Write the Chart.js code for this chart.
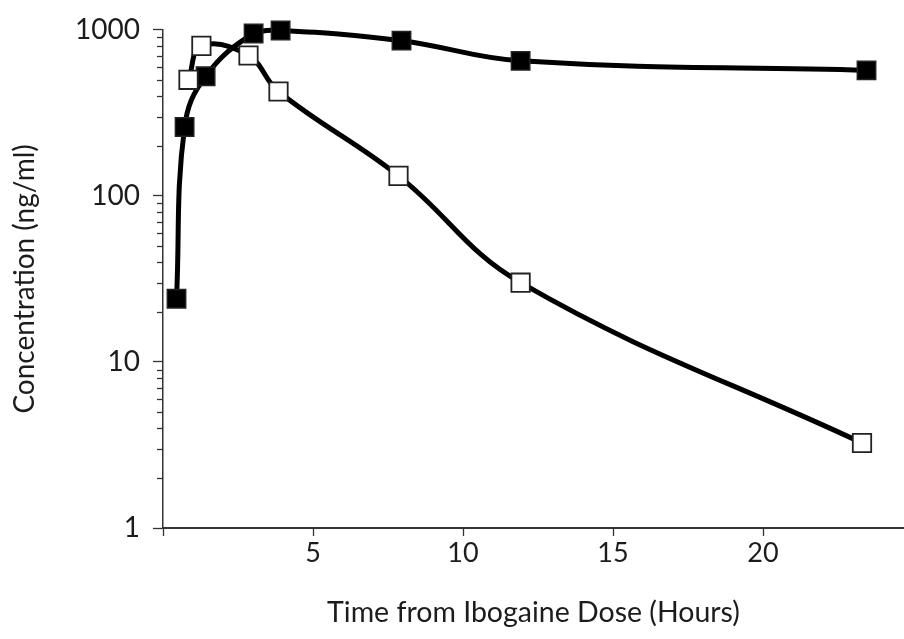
<!DOCTYPE html>
<html>
<head>
<meta charset="utf-8">
<script src="https://cdn.jsdelivr.net/npm/chart.js@4/dist/chart.umd.min.js"></script>
<style>
    html, body { margin: 0; padding: 0; background: #fff; overflow: hidden; }
    #wrap { width: 904px; height: 639px; }
</style>
</head>
<body>
<div id="wrap"><canvas id="pkChart"></canvas></div>
<script>
// sampling times (hours) and plasma concentrations (ng/ml)
const filledTimes = [0.45, 0.72, 1.42, 3.02, 3.92, 7.95, 11.92, 23.45];
const filledConc = [24, 260, 525, 950, 990, 860, 650, 570];
const openTimes = [0.85, 1.28, 2.85, 3.85, 7.85, 11.92, 23.3];
const openConc = [500, 800, 700, 425, 132, 30, 3.25];

const xTicks = [0, 5, 10, 15, 20];
const yTicks = [1, 10, 100, 1000];

const FONT = 'Lato, "Open Sans", sans-serif';
const INK = '#1c1c1c';

const toPoints = (xs, ys) => xs.map((x, i) => ({ x: x, y: ys[i] }));

// short minor ticks between the decades
const minorTicks = {
    id: 'minorTicks',
    afterDraw(chart) {
        const y = chart.scales.y;
        const ctx = chart.ctx;
        const x0 = chart.chartArea.left;
        ctx.save();
        ctx.strokeStyle = '#333';
        ctx.lineWidth = 1.3;
        y.ticks.forEach(t => {
            if (yTicks.includes(t.value)) return;
            const py = Math.round(y.getPixelForValue(t.value)) + 0.5;
            ctx.beginPath();
            ctx.moveTo(x0 - 6, py);
            ctx.lineTo(x0, py);
            ctx.stroke();
        });
        ctx.restore();
    }
};

const ctx = document.getElementById('pkChart').getContext('2d');
new Chart(ctx, {
    type: 'line',
    data: {
        datasets: [
            {
                label: 'Noribogaine',
                data: toPoints(filledTimes, filledConc),
                borderColor: '#000',
                borderWidth: 5,
                tension: 0.4,
                pointStyle: 'rect',
                pointRadius: 13,
                pointBackgroundColor: '#000',
                pointBorderColor: '#222',
                pointBorderWidth: 1.5,
                clip: false,
                order: 2
            },
            {
                label: 'Ibogaine',
                data: toPoints(openTimes, openConc),
                borderColor: '#000',
                borderWidth: 5,
                tension: 0.4,
                pointStyle: 'rect',
                pointRadius: 13,
                pointBackgroundColor: '#fff',
                pointBorderColor: '#222',
                pointBorderWidth: 1.8,
                clip: false,
                order: 1
            }
        ]
    },
    options: {
        responsive: true,
        maintainAspectRatio: false,
        animation: false,
        layout: { autoPadding: false, padding: { top: 27, right: 0, left: 0, bottom: 0 } },
        plugins: {
            legend: { display: false },
            tooltip: { enabled: false }
        },
        scales: {
            x: {
                type: 'linear',
                min: 0,
                max: 24.7,
                afterBuildTicks: scale => {
                    scale.ticks = xTicks.map(v => ({ value: v }));
                },
                afterFit: scale => { scale.height = 111; },
                grid: {
                    drawOnChartArea: false,
                    tickLength: 8,
                    tickColor: '#333',
                    tickWidth: 1.3
                },
                border: { color: '#333', width: 2 },
                ticks: {
                    padding: 1,
                    color: INK,
                    font: { family: FONT, size: 27 },
                    callback: v => (v === 0 ? '' : v)
                },
                title: {
                    display: true,
                    text: 'Time from Ibogaine Dose (Hours)',
                    color: INK,
                    font: { family: FONT, size: 28.5 },
                    padding: { top: 0, bottom: 9 }
                }
            },
            y: {
                type: 'logarithmic',
                min: 1,
                max: 1000,
                afterBuildTicks: scale => {
                    const ticks = [];
                    yTicks.forEach(d => {
                        for (let m = 1; m <= 9; m++) {
                            if (d * m <= 1000) ticks.push({ value: d * m });
                        }
                    });
                    scale.ticks = ticks;
                },
                afterFit: scale => { scale.width = 163; },
                grid: {
                    drawOnChartArea: false,
                    tickLength: 10,
                    tickWidth: 1.3,
                    tickColor: c => (yTicks.includes(c.tick.value) ? '#333' : 'rgba(0,0,0,0)')
                },
                border: { color: '#333', width: 1.5 },
                ticks: {
                    padding: 13,
                    autoSkip: false,
                    color: INK,
                    font: { family: FONT, size: 28 },
                    callback: v => (yTicks.includes(v) ? String(v) : '')
                },
                title: {
                    display: true,
                    text: 'Concentration (ng/ml)',
                    color: INK,
                    font: { family: FONT, size: 28 },
                    padding: { top: 8, bottom: 0 }
                }
            }
        }
    },
    plugins: [minorTicks]
});
</script>
</body>
</html>
